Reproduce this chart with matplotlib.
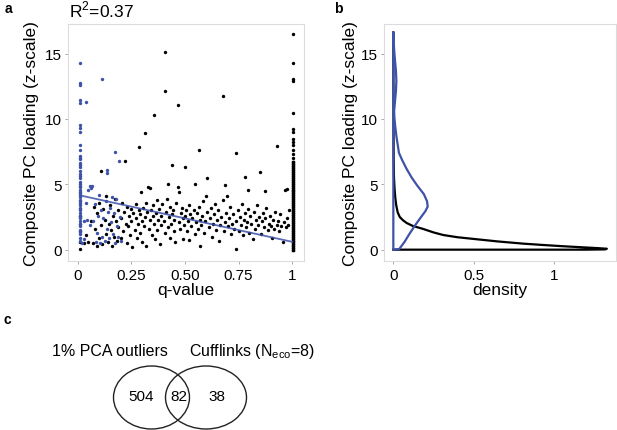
import numpy as np
import matplotlib.pyplot as plt
from matplotlib.patches import Ellipse

plt.rcParams['font.family'] = ['Liberation Sans', 'DejaVu Sans']

# --- panel a: non-outlier genes (black) ---
q_black = [0.011, 0.011, 0.011, 0.011, 0.03, 0.04, 0.05, 0.06, 0.07, 0.075, 0.08, 0.09, 0.09, 0.1, 0.1,
           0.108, 0.11, 0.115, 0.12, 0.125, 0.13, 0.13, 0.14, 0.145, 0.15, 0.155, 0.16, 0.165, 0.17, 0.175,
           0.18, 0.185, 0.19, 0.19, 0.2, 0.2, 0.205,
           0.21, 0.215, 0.22, 0.225, 0.23, 0.23, 0.235, 0.24, 0.245, 0.25, 0.25, 0.255, 0.26, 0.265, 0.27,
           0.27, 0.275, 0.28, 0.285, 0.286, 0.29, 0.29, 0.295, 0.3, 0.3, 0.305, 0.31, 0.315, 0.315, 0.32,
           0.32, 0.325, 0.326, 0.33, 0.335, 0.337, 0.34, 0.345, 0.35, 0.35, 0.355, 0.355, 0.36, 0.365, 0.37,
           0.37, 0.375, 0.38, 0.385, 0.39, 0.39, 0.395, 0.4, 0.405, 0.407, 0.408, 0.41, 0.415, 0.42, 0.42,
           0.425, 0.43, 0.43, 0.435, 0.438, 0.44, 0.445, 0.45, 0.45, 0.455, 0.46, 0.466, 0.469, 0.47, 0.47,
           0.475, 0.48, 0.485, 0.49, 0.49, 0.495, 0.5, 0.5,
           0.505, 0.51, 0.515, 0.519, 0.52, 0.525, 0.53, 0.535, 0.54, 0.545, 0.547, 0.55, 0.555, 0.56,
           0.565, 0.567, 0.57, 0.57, 0.575, 0.58, 0.585, 0.59, 0.595, 0.598, 0.601, 0.605, 0.61, 0.615,
           0.62, 0.625, 0.63, 0.635, 0.64, 0.645, 0.65, 0.655, 0.66, 0.665, 0.67, 0.675, 0.679, 0.68, 0.685,
           0.686, 0.69, 0.694, 0.7, 0.705, 0.71, 0.715, 0.72, 0.725, 0.73, 0.736, 0.736, 0.74, 0.745, 0.75,
           0.755, 0.76, 0.765, 0.77, 0.775, 0.78, 0.78, 0.785, 0.79, 0.792, 0.795, 0.8, 0.805, 0.81, 0.815,
           0.82, 0.825, 0.83, 0.835, 0.84, 0.845, 0.851, 0.855, 0.86, 0.865, 0.87, 0.873, 0.875, 0.88,
           0.885, 0.89, 0.895, 0.9, 0.905, 0.91, 0.915, 0.92, 0.927, 0.93, 0.935, 0.94, 0.945, 0.95, 0.955,
           0.96, 0.965, 0.97, 0.975, 0.975, 0.98, 0.985]
y_black = [0.05, 0.6, 1.45, 2.6, 0.5, 1.1, 0.6, 2.2, 0.5, 3.3, 1.6, 0.3, 2.8, 0.9, 3.6,
           6.04, 1.9, 0.4, 3.1, 2.3, 1.2, 4.1, 0.6, 2.0, 3.4, 1.5, 0.3, 2.6, 1.0, 3.9,
           2.2, 0.7, 1.7, 3.0, 2.4, 0.9, 3.6,
           1.4, 2.9, 6.75, 2.0, 3.3, 0.5, 1.8, 2.6, 1.1, 3.1, 2.2, 0.2, 2.8, 1.5, 3.5,
           2.4, 0.9, 2.0, 3.0, 7.85, 1.3, 2.7, 4.4, 2.2, 0.6, 3.2, 1.8, 2.5, 8.9, 3.6,
           0.3, 2.9, 4.8, 1.6, 2.3, 4.7, 3.0, 1.1, 2.6, 3.4, 10.3, 2.0, 0.8, 2.8, 1.5,
           3.8, 2.3, 3.1, 0.4, 2.6, 1.9, 3.5, 2.2, 1.3, 15.14, 12.1, 2.9, 3.9, 5.0, 1.7,
           2.5, 0.9, 3.3, 2.0, 6.5, 2.7, 3.0, 1.4, 2.3, 0.6, 3.6, 4.8, 11.06, 2.1, 4.4,
           1.6, 2.8, 3.2, 2.4, 0.8, 1.9, 6.3, 2.6,
           3.0, 1.4, 2.2, 0.74, 3.4, 2.7, 1.8, 2.4, 3.0, 1.2, 5.02, 2.1, 2.8, 1.6,
           3.3, 7.65, 0.31, 2.3, 1.9, 2.6, 3.7, 1.3, 2.2, 4.12, 5.48, 2.9, 1.7, 2.4,
           3.2, 1.0, 2.0, 2.7, 3.5, 1.5, 2.3, 3.0, 0.7, 1.9, 2.5, 3.8, 11.73, 1.4, 2.1,
           4.97, 2.8, 4.13, 1.8, 2.4, 3.3, 1.2, 2.0, 2.7, 1.6, 7.37, 0.05, 2.2, 3.0, 1.4,
           2.5, 1.9, 3.5, 1.1, 2.3, 5.58, 2.8, 1.7, 2.1, 4.56, 3.1, 1.3, 2.6, 2.0, 0.8,
           2.9, 1.6, 2.3, 3.4, 1.9, 2.5, 5.92, 1.2, 2.2, 2.8, 1.7, 4.51, 2.4, 3.2,
           1.5, 2.0, 2.6, 1.8, 0.9, 2.3, 1.6, 2.9, 7.9, 1.9, 2.2, 1.4, 2.7, 1.8, 0.6,
           2.1, 4.6, 1.7, 4.64, 2.4, 1.9, 3.0]

# genes with q = 1 (dense column on the right)
y_q1 = [16.5, 14.27, 13.05, 12.87, 10.45, 9.23, 8.97, 8.46, 8.26, 8.0, 7.6, 7.3, 7.0,
        6.7, 6.55, 6.4, 6.25, 6.1, 5.95, 5.8, 5.65, 5.5, 5.35, 5.2, 5.05, 4.9, 4.75, 4.6, 4.45,
        4.3, 4.15, 4.0, 3.85, 3.7, 3.55, 3.4, 3.25, 3.1, 2.95, 2.8, 2.65, 2.5, 2.35, 2.2, 2.05,
        1.9, 1.75, 1.6, 1.45, 1.3, 1.15, 1.0, 0.85, 0.7, 0.55, 0.4, 0.25, 0.1, 0.0]

# --- panel a: Cufflinks outliers (blue) ---
q_blue = [0.011] * 49 + [0.039, 0.112, 0.174, 0.193, 0.137, 0.137, 0.057, 0.065, 0.06, 0.05, 0.045, 0.03,
                         0.055, 0.07, 0.08, 0.085, 0.09, 0.095, 0.1, 0.105, 0.11, 0.115, 0.12, 0.125, 0.13,
                         0.135, 0.14, 0.145, 0.15, 0.155, 0.16, 0.165, 0.17, 0.175, 0.18, 0.185, 0.19,
                         0.195, 0.2, 0.03, 0.04, 0.022]
y_blue = [14.27, 12.74, 12.6, 11.45, 11.25, 9.53, 9.33, 9.02, 8.0, 7.6, 7.2, 6.9, 6.6, 6.3, 6.0, 5.8, 5.5,
          5.2, 5.0, 4.8, 4.6, 4.4, 4.2, 4.0, 3.8, 3.6, 3.4, 3.2, 3.0, 2.8, 2.6, 2.4, 2.2, 2.0, 1.8, 1.5,
          1.2, 0.9, 0.7, 7.0, 6.45, 5.65, 4.9, 4.3, 3.7, 3.1, 2.5, 1.95, 1.35,
          11.3, 13.07, 7.49, 6.78, 6.1, 5.86, 4.9, 4.85, 4.7, 4.6, 2.3, 0.8,
          1.9, 2.2, 3.5, 0.6, 1.3, 2.6, 4.2, 0.5, 3.0, 1.0, 2.4, 0.7, 3.7,
          1.6, 2.9, 0.9, 3.2, 2.1, 4.0, 1.2, 2.8, 0.5, 3.9, 1.8, 1.0,
          2.5, 0.7, 2.2, 3.6, 0.5]

# regression line
fit_q = [0.011, 1.0]
fit_y = [4.15, 0.6]

# --- panel b: density curves ---
dens_black_x = [0.0, 0.001, 0.002, 0.004, 0.008, 0.012, 0.018, 0.027, 0.04, 0.06, 0.083, 0.12, 0.187,
                0.25, 0.311, 0.4, 0.54, 0.65, 0.81, 0.93, 1.06, 1.18, 1.27, 1.33, 1.32, 1.2, 0.0]
dens_black_y = [16.6, 10.0, 7.0, 5.5, 4.6, 4.0, 3.4, 2.86, 2.5, 2.25, 2.04, 1.82, 1.58,
                1.32, 1.12, 0.95, 0.77, 0.63, 0.46, 0.36, 0.26, 0.18, 0.12, 0.07, 0.02, 0.0, 0.0]
dens_blue_x = [0.0, 0.0, 0.037, 0.07, 0.1, 0.135, 0.17, 0.2, 0.214, 0.21, 0.19, 0.149, 0.115, 0.083,
               0.055, 0.035, 0.02, 0.011, 0.006, 0.005, 0.01, 0.016, 0.019, 0.016, 0.01, 0.005, 0.002, 0.0]
dens_blue_y = [16.6, 0.0, 0.05, 0.6, 1.2, 1.85, 2.45, 2.95, 3.3, 3.7, 4.25, 4.9, 5.5, 6.17,
               6.85, 7.4, 8.6, 9.5, 10.2, 10.6, 11.3, 12.1, 12.9, 13.7, 14.5, 15.3, 16.0, 16.6]

# --- panel c: Venn counts ---
venn_counts = [504, 82, 38]
venn_names = ["1% PCA outliers", "Cufflinks (N$_{\\mathregular{eco}}$=8)"]

BLUE = "#3d52a8"
GRID = "#dcdcdc"

fig = plt.figure(figsize=(6.17, 4.31), dpi=100)


def style(ax):
    for s in ax.spines.values():
        s.set_color(GRID)
        s.set_linewidth(0.8)
    ax.tick_params(length=2.5, width=0.6, color="#9a9a9a", labelsize=11, pad=2)


ax1 = fig.add_axes([0.1107, 0.3914, 0.382, 0.5513])
ax1.scatter(q_black, y_black, s=6, color="black", linewidths=0, zorder=2)
ax1.scatter([1.005] * len(y_q1), y_q1, s=6, color="black", linewidths=0, zorder=2)
ax1.plot([1.005, 1.005], [0.0, 6.7], color="black", lw=2.4, zorder=2)
ax1.scatter(q_blue, y_blue, s=6, color=BLUE, linewidths=0, zorder=3)
ax1.plot(fit_q, fit_y, color=BLUE, lw=1.3, alpha=0.85, zorder=4)
ax1.set_xlim(-0.044, 1.055)
ax1.set_ylim(-0.89, 17.28)
ax1.set_xticks([0, 0.25, 0.5, 0.75, 1])
ax1.set_xticklabels(["0", "0.25", "0.50", "0.75", "1"])
ax1.set_yticks([0, 5, 10, 15])
ax1.set_xlabel("q-value", fontsize=12.5, labelpad=0)
ax1.set_ylabel("Composite PC loading (z-scale)", fontsize=12.5, labelpad=4)
style(ax1)

ax2 = fig.add_axes([0.6224, 0.3914, 0.376, 0.5513])
ax2.plot(dens_black_x, dens_black_y, color="black", lw=1.6)
ax2.plot(dens_blue_x, dens_blue_y, color=BLUE, lw=1.6)
ax2.set_xlim(-0.058, 1.387)
ax2.set_ylim(-0.89, 17.28)
ax2.set_xticks([0, 0.5, 1])
ax2.set_xticklabels(["0", "0.5", "1"])
ax2.set_yticks([0, 5, 10, 15])
ax2.set_xlabel("density", fontsize=12.5, labelpad=0)
ax2.set_ylabel("Composite PC loading (z-scale)", fontsize=12.5, labelpad=2)
style(ax2)

# Venn diagram in pixel-like coordinates
ax3 = fig.add_axes([0, 0, 1, 1], facecolor="none")
ax3.set_xlim(0, 617)
ax3.set_ylim(431, 0)
ax3.axis("off")
ax3.add_patch(Ellipse((151.5, 398.5), 76, 63, fill=False, lw=1.0, color="#222222"))
ax3.add_patch(Ellipse((206.0, 398.5), 81, 63, fill=False, lw=1.0, color="#222222"))
for xpos, n in zip([141, 179, 216.5], venn_counts):
    ax3.text(xpos, 397, str(n), ha="center", va="center", fontsize=11)
ax3.text(110, 352, venn_names[0], ha="center", va="center", fontsize=11.5)
ax3.text(252, 352, venn_names[1], ha="center", va="center", fontsize=11.5)

ax3.text(8, 9, "a", fontsize=10, fontweight="bold", ha="center", va="center")
ax3.text(338, 9, "b", fontsize=10, fontweight="bold", ha="center", va="center")
ax3.text(7, 320, "c", fontsize=10, fontweight="bold", ha="center", va="center")
ax3.text(69, 10, "R$^{\\mathregular{2}}$=0.37", fontsize=12.5, ha="left", va="center")

fig.savefig("out.png", dpi=100)
